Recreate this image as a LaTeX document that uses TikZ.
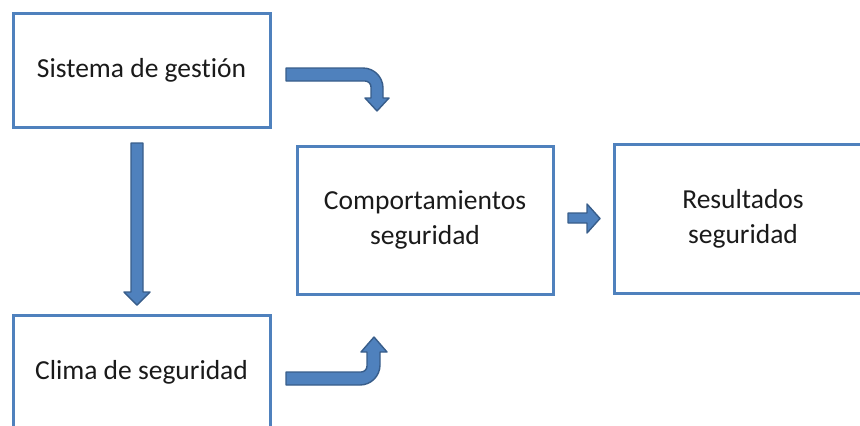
\documentclass[tikz,border=0pt]{standalone}
\usepackage{fontspec}
\setmainfont{Carlito}[Ligatures={NoCommon}]
\definecolor{boxblue}{HTML}{4F81BD}
\definecolor{arrowfill}{HTML}{4F81BD}
\definecolor{arrowedge}{HTML}{385D8A}
\definecolor{txt}{HTML}{1A1A1A}
\begin{document}
\begin{tikzpicture}[x=0.5pt,y=-0.5pt,
  box/.style={draw=boxblue, line width=1.5pt, fill=white, inner sep=0pt,
    text=txt, align=center, font=\fontsize{13.75pt}{17.5pt}\selectfont},
  blockarrow/.style={fill=arrowfill, draw=arrowedge, line width=0.7pt, line join=round}]
\useasboundingbox (0,0) rectangle (860,425);
\clip (0,0) rectangle (860,425);
% boxes
\node[box, minimum width=128.5pt, minimum height=57pt] (sg) at (141.5,70) {Sistema de gestión};
\node[box, minimum width=128.5pt, minimum height=57pt] (cs) at (141.5,372) {Clima de seguridad};
\node[box, minimum width=128pt, minimum height=74pt] (cp) at (425,220) {Comportamientos\\seguridad};
\node[box, minimum width=129pt, minimum height=74.5pt] (rs) at (743,218.5) {Resultados\\seguridad};
% down arrow
\path[blockarrow] (131,143) -- (143,143) -- (143,292) -- (150,292) -- (137,305) -- (124,292) -- (131,292) -- cycle;
% right arrow
\path[blockarrow] (568,213) -- (587,213) -- (587,204) -- (600,218.5) -- (587,233) -- (587,223) -- (568,223) -- cycle;
% top bent arrow
\path[blockarrow] (286,68) -- (363,68) .. controls (374,68) and (383,77) .. (383,88)
  -- (383,98) -- (389,98) -- (377,111) -- (365,98) -- (371,98) -- (371,87)
  .. controls (371,83.7) and (368.3,81) .. (365,81) -- (286,81) -- cycle;
% bottom bent arrow
\path[blockarrow] (286,372) -- (361,372) .. controls (364.3,372) and (367,369.3) .. (367,366)
  -- (367,352) -- (361,352) -- (374,337) -- (387,352) -- (380,352) -- (380,365)
  .. controls (380,376) and (371,385) .. (360,385) -- (286,385) -- cycle;
\end{tikzpicture}
\end{document}
